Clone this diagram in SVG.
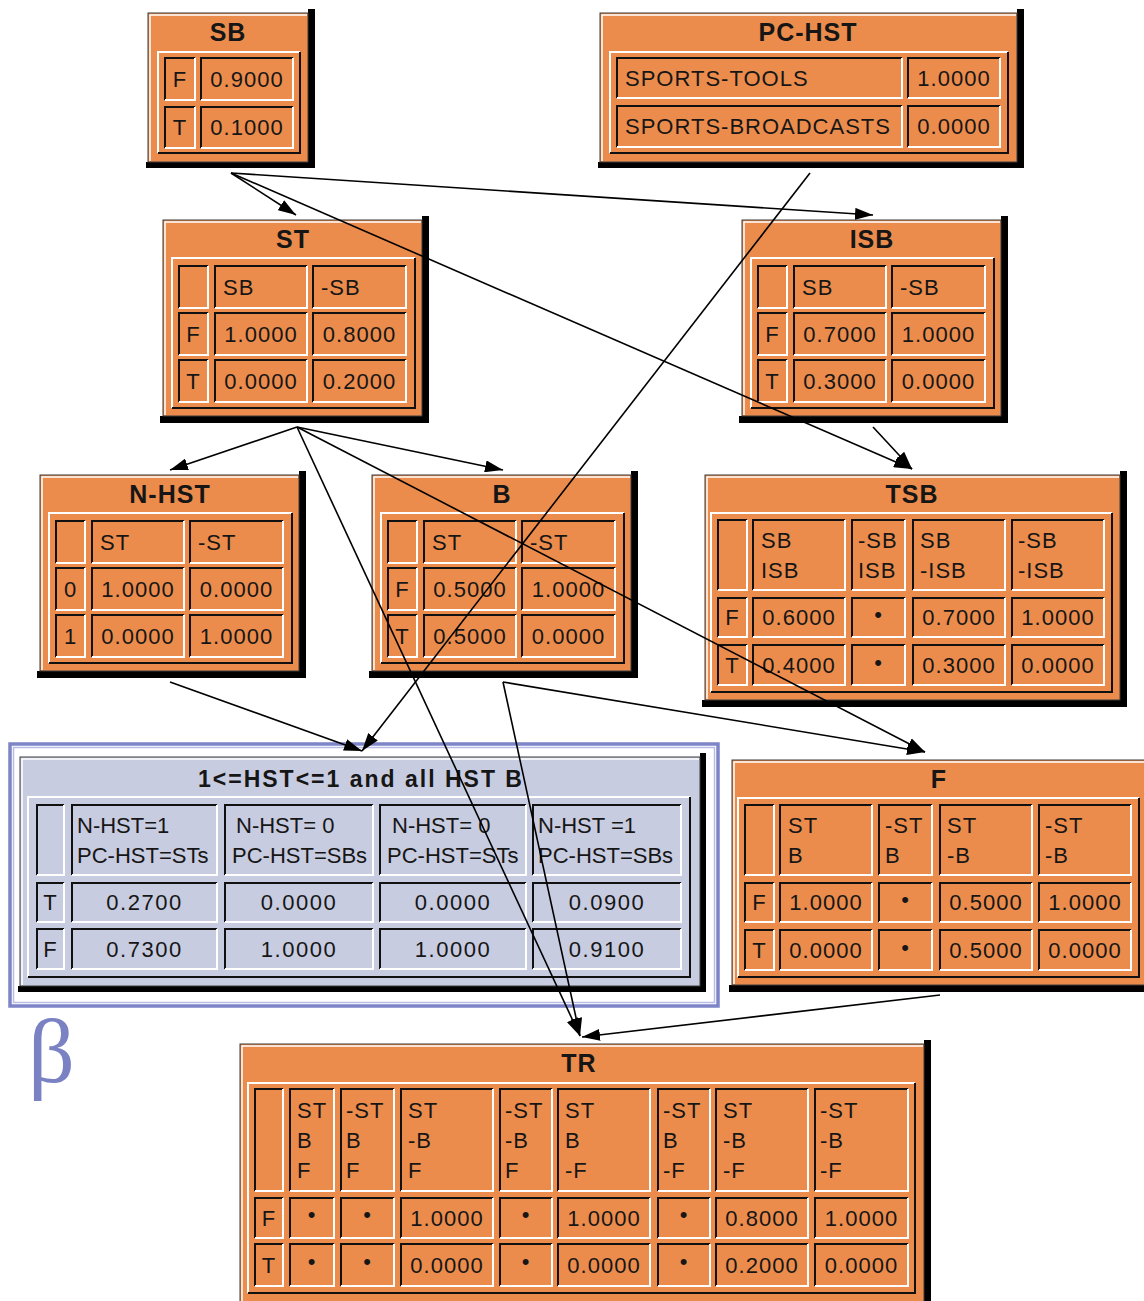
<svg xmlns="http://www.w3.org/2000/svg" width="1144" height="1301" viewBox="0 0 1144 1301">
<style>
.sh{fill:#000}
.bx{fill:#EC8C4C;stroke:#3a3a3a;stroke-width:1}
.bg{fill:#C8CCE0;stroke:#3a3a3a;stroke-width:1}
.hl{fill:none;stroke:#fff;stroke-width:1.5}
.k{fill:none;stroke:#111;stroke-width:2}
.w{fill:none;stroke:#fff;stroke-width:2}
text{font-family:"Liberation Sans",Arial,sans-serif;fill:#161616}
.ti{font-size:25px;font-weight:bold;letter-spacing:1px;text-anchor:middle}
.tb{font-size:23px;font-weight:bold;letter-spacing:2px;text-anchor:middle}
.t{font-size:22px;letter-spacing:1px}
.c{text-anchor:middle}
.q{font-size:22px;letter-spacing:0px}
.v{font-size:22px;letter-spacing:1.5px;text-anchor:middle}
.beta{font-family:"Liberation Serif","Times New Roman",serif;font-size:92px;fill:#7B82C4}
.ed{fill:none;stroke:#000;stroke-width:1.6}
</style>
<defs>
<marker id="ah" markerUnits="userSpaceOnUse" markerWidth="18" markerHeight="12" refX="18" refY="6" orient="auto">
<path d="M0,0 L18,6 L0,12 Z" fill="#000"/>
</marker>
<g id="t3">
<path class="sh" d="M422 216 H429 V423 H160 V416 H422 Z"/>
<rect class="bx" x="163" y="220" width="259" height="196"/>
<path class="hl" d="M165 415 V222 H421"/>
<path class="w" d="M172 408 V258 H415"/>
<path class="k" d="M415 258 V408 H172"/>
<path class="k" d="M179 308V266H208 M215 308V266H307 M313 308V266H406 M179 355V313H208 M215 355V313H307 M313 355V313H406 M179 402V360H208 M215 402V360H307 M313 402V360H406"/>
<path class="w" d="M208 266V308H179 M307 266V308H215 M406 266V308H313 M208 313V355H179 M307 313V355H215 M406 313V355H313 M208 360V402H179 M307 360V402H215 M406 360V402H313"/>
</g>
<g id="t5">
<path class="sh" d="M1120 471 H1127 V707 H702 V700 H1120 Z"/>
<rect class="bx" x="705" y="475" width="415" height="225"/>
<path class="hl" d="M707 699 V477 H1119"/>
<path class="w" d="M711 692 V513 H1112"/>
<path class="k" d="M1112 513 V692 H711"/>
<path class="k" d="M718 590V520H747 M753 590V520H845 M852 590V520H905 M913 590V520H1005 M1012 590V520H1104 M718 637V598H747 M753 637V598H845 M852 637V598H905 M913 637V598H1005 M1012 637V598H1104 M718 685V645H747 M753 685V645H845 M852 685V645H905 M913 685V645H1005 M1012 685V645H1104"/>
<path class="w" d="M747 520V590H718 M845 520V590H753 M905 520V590H852 M1005 520V590H913 M1104 520V590H1012 M747 598V637H718 M845 598V637H753 M905 598V637H852 M1005 598V637H913 M1104 598V637H1012 M747 645V685H718 M845 645V685H753 M905 645V685H852 M1005 645V685H913 M1104 645V685H1012"/>
</g>
</defs>

<g id="node-SB">
<path class="sh" d="M308 9 H315 V168 H146 V162 H308 Z"/>
<rect class="bx" x="148" y="13" width="160" height="149"/>
<path class="hl" d="M150 161 V15 H307"/>
<path class="w" d="M158 153 V52 H300"/>
<path class="k" d="M300 52 V153 H158"/>
<path class="k" d="M165 100V58H195 M201 100V58H293 M165 148V107H195 M201 148V107H293"/>
<path class="w" d="M195 58V100H165 M293 58V100H201 M195 107V148H165 M293 107V148H201"/>
<text class="ti" x="228" y="41">SB</text>
<text class="t c" x="180" y="87">F</text>
<text class="t c" x="247" y="87">0.9000</text>
<text class="t c" x="180" y="135">T</text>
<text class="t c" x="247" y="135">0.1000</text>
</g>

<g id="node-PC-HST">
<path class="sh" d="M1017 9 H1024 V168 H598 V162 H1017 Z"/>
<rect class="bx" x="600" y="13" width="417" height="149"/>
<path class="hl" d="M602 161 V15 H1016"/>
<path class="w" d="M610 153 V52 H1008"/>
<path class="k" d="M1008 52 V153 H610"/>
<path class="k" d="M617 98V58H902 M908 98V58H1000 M617 147V106H902 M908 147V106H1000"/>
<path class="w" d="M902 58V98H617 M1000 58V98H908 M902 106V147H617 M1000 106V147H908"/>
<text class="ti" x="808" y="41">PC-HST</text>
<text class="t" x="625" y="86">SPORTS-TOOLS</text>
<text class="t c" x="954" y="86">1.0000</text>
<text class="t" x="625" y="134">SPORTS-BROADCASTS</text>
<text class="t c" x="954" y="134">0.0000</text>
</g>

<g id="node-ST">
<use href="#t3"/>
<text class="ti" x="293" y="248">ST</text>
<text class="t" x="223" y="295">SB</text>
<text class="t" x="321" y="295">-SB</text>
<text class="t c" x="193.5" y="342">F</text>
<text class="t c" x="261" y="342">1.0000</text>
<text class="t c" x="359.5" y="342">0.8000</text>
<text class="t c" x="193.5" y="389">T</text>
<text class="t c" x="261" y="389">0.0000</text>
<text class="t c" x="359.5" y="389">0.2000</text>
</g>

<g id="node-ISB">
<use href="#t3" transform="translate(579,0)"/>
<text class="ti" x="872" y="248">ISB</text>
<text class="t" x="802" y="295">SB</text>
<text class="t" x="900" y="295">-SB</text>
<text class="t c" x="772.5" y="342">F</text>
<text class="t c" x="840" y="342">0.7000</text>
<text class="t c" x="938.5" y="342">1.0000</text>
<text class="t c" x="772.5" y="389">T</text>
<text class="t c" x="840" y="389">0.3000</text>
<text class="t c" x="938.5" y="389">0.0000</text>
</g>

<g id="node-N-HST">
<use href="#t3" transform="translate(-123,255)"/>
<text class="ti" x="170" y="503">N-HST</text>
<text class="t" x="100" y="550">ST</text>
<text class="t" x="198" y="550">-ST</text>
<text class="t c" x="70.5" y="597">0</text>
<text class="t c" x="138" y="597">1.0000</text>
<text class="t c" x="236.5" y="597">0.0000</text>
<text class="t c" x="70.5" y="644">1</text>
<text class="t c" x="138" y="644">0.0000</text>
<text class="t c" x="236.5" y="644">1.0000</text>
</g>

<g id="node-B">
<use href="#t3" transform="translate(209,255)"/>
<text class="ti" x="502" y="503">B</text>
<text class="t" x="432" y="550">ST</text>
<text class="t" x="530" y="550">-ST</text>
<text class="t c" x="402.5" y="597">F</text>
<text class="t c" x="470" y="597">0.5000</text>
<text class="t c" x="568.5" y="597">1.0000</text>
<text class="t c" x="402.5" y="644">T</text>
<text class="t c" x="470" y="644">0.5000</text>
<text class="t c" x="568.5" y="644">0.0000</text>
</g>

<g id="node-TSB">
<use href="#t5"/>
<text class="ti" x="912" y="503">TSB</text>
<text class="t" x="761" y="548">SB</text>
<text class="t" x="761" y="578">ISB</text>
<text class="t" x="858" y="548">-SB</text>
<text class="t" x="858" y="578">ISB</text>
<text class="t" x="920" y="548">SB</text>
<text class="t" x="920" y="578">-ISB</text>
<text class="t" x="1018" y="548">-SB</text>
<text class="t" x="1018" y="578">-ISB</text>
<text class="t c" x="732.5" y="625">F</text>
<text class="t c" x="799" y="625">0.6000</text>
<text class="t c" x="878.5" y="622">•</text>
<text class="t c" x="959" y="625">0.7000</text>
<text class="t c" x="1058" y="625">1.0000</text>
<text class="t c" x="732.5" y="673">T</text>
<text class="t c" x="799" y="673">0.4000</text>
<text class="t c" x="878.5" y="670">•</text>
<text class="t c" x="959" y="673">0.3000</text>
<text class="t c" x="1058" y="673">0.0000</text>
</g>

<g id="node-F">
<use href="#t5" transform="translate(27,285)"/>
<text class="ti" x="939" y="788">F</text>
<text class="t" x="788" y="833">ST</text>
<text class="t" x="788" y="863">B</text>
<text class="t" x="885" y="833">-ST</text>
<text class="t" x="885" y="863">B</text>
<text class="t" x="947" y="833">ST</text>
<text class="t" x="947" y="863">-B</text>
<text class="t" x="1045" y="833">-ST</text>
<text class="t" x="1045" y="863">-B</text>
<text class="t c" x="759.5" y="910">F</text>
<text class="t c" x="826" y="910">1.0000</text>
<text class="t c" x="905.5" y="907">•</text>
<text class="t c" x="986" y="910">0.5000</text>
<text class="t c" x="1085" y="910">1.0000</text>
<text class="t c" x="759.5" y="958">T</text>
<text class="t c" x="826" y="958">0.0000</text>
<text class="t c" x="905.5" y="955">•</text>
<text class="t c" x="986" y="958">0.5000</text>
<text class="t c" x="1085" y="958">0.0000</text>
</g>

<g id="node-evidence">
<rect x="10" y="744" width="708" height="262" fill="none" stroke="#7D84C7" stroke-width="3.5"/>
<rect x="13.5" y="747.5" width="701" height="255" fill="none" stroke="#B9BDE6" stroke-width="1.5"/>
<path class="sh" d="M700 753 H706 V992 H18 V986 H700 Z"/>
<rect class="bg" x="20" y="757" width="680" height="229"/>
<path class="hl" d="M22 985 V759 H699"/>
<path class="w" d="M28 977 V797 H690"/>
<path class="k" d="M690 797 V977 H28"/>
<path class="k" d="M37 875V805H64 M72 875V805H217 M225 875V805H373 M380 875V805H526 M533 875V805H681 M37 922V883H64 M72 922V883H217 M225 922V883H373 M380 922V883H526 M533 922V883H681 M37 969V929H64 M72 969V929H217 M225 969V929H373 M380 969V929H526 M533 969V929H681"/>
<path class="w" d="M64 805V875H37 M217 805V875H72 M373 805V875H225 M526 805V875H380 M681 805V875H533 M64 883V922H37 M217 883V922H72 M373 883V922H225 M526 883V922H380 M681 883V922H533 M64 929V969H37 M217 929V969H72 M373 929V969H225 M526 929V969H380 M681 929V969H533"/>
<text class="tb" x="361" y="787">1&lt;=HST&lt;=1 and all HST B</text>
<text class="q" x="77" y="833">N-HST=1</text>
<text class="q" x="77" y="863">PC-HST=STs</text>
<text class="q" x="236" y="833">N-HST= 0</text>
<text class="q" x="232" y="863">PC-HST=SBs</text>
<text class="q" x="392" y="833">N-HST= 0</text>
<text class="q" x="387" y="863">PC-HST=STs</text>
<text class="q" x="538" y="833">N-HST =1</text>
<text class="q" x="538" y="863">PC-HST=SBs</text>
<text class="t c" x="50.5" y="910">T</text>
<text class="v" x="144.5" y="910">0.2700</text>
<text class="v" x="299" y="910">0.0000</text>
<text class="v" x="453" y="910">0.0000</text>
<text class="v" x="607" y="910">0.0900</text>
<text class="t c" x="50.5" y="957">F</text>
<text class="v" x="144.5" y="957">0.7300</text>
<text class="v" x="299" y="957">1.0000</text>
<text class="v" x="453" y="957">1.0000</text>
<text class="v" x="607" y="957">0.9100</text>
</g>

<text class="beta" x="28" y="1082">β</text>

<g id="node-TR">
<path class="sh" d="M924 1040 H931 V1301 H924 Z"/>
<rect class="bx" x="240" y="1044" width="684" height="266"/>
<path class="hl" d="M242 1310 V1046 H923"/>
<path class="w" d="M248 1293 V1083 H915"/>
<path class="k" d="M915 1083 V1293 H248"/>
<path class="k" d="M255 1191V1089H283 M290 1191V1089H334 M341 1191V1089H394 M401 1191V1089H493 M500 1191V1089H552 M558 1191V1089H650 M658 1191V1089H710 M716 1191V1089H808 M815 1191V1089H908 M255 1238V1198H283 M290 1238V1198H334 M341 1238V1198H394 M401 1238V1198H493 M500 1238V1198H552 M558 1238V1198H650 M658 1238V1198H710 M716 1238V1198H808 M815 1238V1198H908 M255 1286V1244H283 M290 1286V1244H334 M341 1286V1244H394 M401 1286V1244H493 M500 1286V1244H552 M558 1286V1244H650 M658 1286V1244H710 M716 1286V1244H808 M815 1286V1244H908"/>
<path class="w" d="M283 1089V1191H255 M334 1089V1191H290 M394 1089V1191H341 M493 1089V1191H401 M552 1089V1191H500 M650 1089V1191H558 M710 1089V1191H658 M808 1089V1191H716 M908 1089V1191H815 M283 1198V1238H255 M334 1198V1238H290 M394 1198V1238H341 M493 1198V1238H401 M552 1198V1238H500 M650 1198V1238H558 M710 1198V1238H658 M808 1198V1238H716 M908 1198V1238H815 M283 1244V1286H255 M334 1244V1286H290 M394 1244V1286H341 M493 1244V1286H401 M552 1244V1286H500 M650 1244V1286H558 M710 1244V1286H658 M808 1244V1286H716 M908 1244V1286H815"/>
<text class="ti" x="579" y="1072">TR</text>
<text class="t" x="297" y="1118">ST</text><text class="t" x="297" y="1148">B</text><text class="t" x="297" y="1178">F</text>
<text class="t" x="346" y="1118">-ST</text><text class="t" x="346" y="1148">B</text><text class="t" x="346" y="1178">F</text>
<text class="t" x="408" y="1118">ST</text><text class="t" x="408" y="1148">-B</text><text class="t" x="408" y="1178">F</text>
<text class="t" x="505" y="1118">-ST</text><text class="t" x="505" y="1148">-B</text><text class="t" x="505" y="1178">F</text>
<text class="t" x="565" y="1118">ST</text><text class="t" x="565" y="1148">B</text><text class="t" x="565" y="1178">-F</text>
<text class="t" x="663" y="1118">-ST</text><text class="t" x="663" y="1148">B</text><text class="t" x="663" y="1178">-F</text>
<text class="t" x="723" y="1118">ST</text><text class="t" x="723" y="1148">-B</text><text class="t" x="723" y="1178">-F</text>
<text class="t" x="820" y="1118">-ST</text><text class="t" x="820" y="1148">-B</text><text class="t" x="820" y="1178">-F</text>
<text class="t c" x="269" y="1226">F</text>
<text class="t c" x="312" y="1222">•</text>
<text class="t c" x="367.5" y="1222">•</text>
<text class="t c" x="447" y="1226">1.0000</text>
<text class="t c" x="526" y="1222">•</text>
<text class="t c" x="604" y="1226">1.0000</text>
<text class="t c" x="684" y="1222">•</text>
<text class="t c" x="762" y="1226">0.8000</text>
<text class="t c" x="861.5" y="1226">1.0000</text>
<text class="t c" x="269" y="1273">T</text>
<text class="t c" x="312" y="1269">•</text>
<text class="t c" x="367.5" y="1269">•</text>
<text class="t c" x="447" y="1273">0.0000</text>
<text class="t c" x="526" y="1269">•</text>
<text class="t c" x="604" y="1273">0.0000</text>
<text class="t c" x="684" y="1269">•</text>
<text class="t c" x="762" y="1273">0.2000</text>
<text class="t c" x="861.5" y="1273">0.0000</text>
</g>

<g id="connectors" marker-end="url(#ah)">
<path class="ed" marker-end="url(#ah)" d="M231 173 L296 215"/>
<path class="ed" marker-end="url(#ah)" d="M231 173 L873 215"/>
<path class="ed" marker-end="url(#ah)" d="M231 173 L912 469"/>
<path class="ed" marker-end="url(#ah)" d="M873 427 L912 469"/>
<path class="ed" marker-end="url(#ah)" d="M810 173 L362 751"/>
<path class="ed" marker-end="url(#ah)" d="M297 427 L170 470"/>
<path class="ed" marker-end="url(#ah)" d="M297 427 L503 470"/>
<path class="ed" marker-end="url(#ah)" d="M297 427 L580 1036"/>
<path class="ed" marker-end="url(#ah)" d="M297 427 L925 752"/>
<path class="ed" marker-end="url(#ah)" d="M170 682 L362 751"/>
<path class="ed" marker-end="url(#ah)" d="M503 682 L925 752"/>
<path class="ed" marker-end="url(#ah)" d="M503 682 L580 1036"/>
<path class="ed" marker-end="url(#ah)" d="M940 995 L582 1037"/>
</g>
</svg>
